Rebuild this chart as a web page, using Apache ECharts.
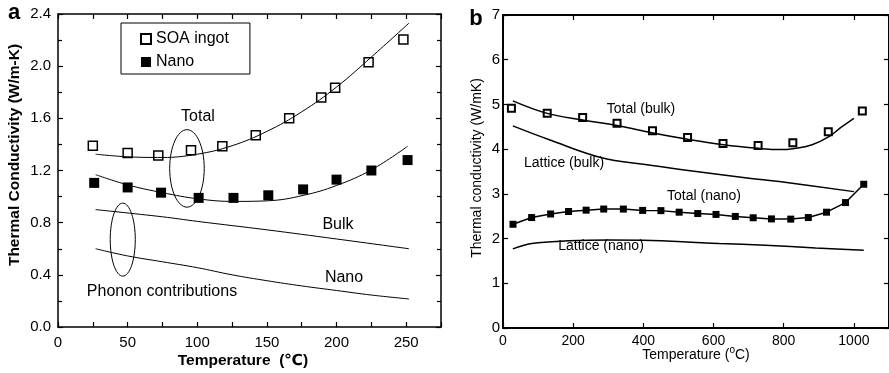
<!DOCTYPE html>
<html>
<head>
<meta charset="utf-8">
<script src="https://cdn.jsdelivr.net/npm/echarts@6/dist/echarts.min.js"></script>
<style>
  html, body { margin: 0; background: #fff; }
  #chart { width: 889px; height: 373px; }
</style>
</head>
<body>
<div id="chart"></div>
<script>
// ---- panel a: thermal conductivity vs temperature (0-275 C)
const soaT = [25, 50, 72, 95.5, 118, 142, 166, 189, 199, 223, 248]
const soaK = [1.39, 1.335, 1.315, 1.355, 1.385, 1.47, 1.6, 1.76, 1.835, 2.03, 2.205]
const nanoT = [26, 50, 74, 101, 126, 151, 176, 200, 225, 251]
const nanoK = [1.105, 1.07, 1.03, 0.99, 0.99, 1.01, 1.055, 1.13, 1.2, 1.28]
const soaFitT = [27, 50, 75, 100, 125, 150, 175, 200, 225, 252]
const soaFitK = [1.325, 1.305, 1.3, 1.325, 1.39, 1.5, 1.65, 1.84, 2.07, 2.33]
const nanoFitT = [27, 50, 75, 101, 126, 151, 176, 200, 225, 251]
const nanoFitK = [1.168, 1.09, 1.03, 0.982, 0.963, 0.968, 1.009, 1.085, 1.205, 1.385]
const bulkPhT = [27, 75, 100, 150, 200, 252]
const bulkPhK = [0.9, 0.845, 0.81, 0.745, 0.675, 0.6]
const nanoPhT = [27, 50, 75, 100, 125, 150, 175, 200, 225, 252]
const nanoPhK = [0.6, 0.545, 0.5, 0.455, 0.4, 0.355, 0.315, 0.28, 0.245, 0.215]
// ellipses: [centre T, centre k, radius T, radius k]
const ellipsesA = [[92.6, 1.216, 12.4, 0.297], [46.5, 0.67, 9.0, 0.28]]
const xTicksA = [0, 25, 50, 75, 100, 125, 150, 175, 200, 225, 250, 275]
const xLabelsA = [0, 50, 100, 150, 200, 250]

// ---- panel b: 0-1100 C
const bulkT = [24, 126, 227, 325, 426, 526, 627, 727, 826, 927, 1024]
const bulkK = [4.915, 4.8, 4.705, 4.58, 4.41, 4.26, 4.125, 4.08, 4.145, 4.39, 4.855]
const bulkFitT = [28, 126, 227, 325, 427, 526, 628, 727, 790, 826, 881, 929, 962, 1000]
const bulkFitK = [5.08, 4.8, 4.65, 4.53, 4.36, 4.22, 4.1, 4.02, 3.99, 4.01, 4.1, 4.28, 4.48, 4.69]
const latBulkT = [28, 132, 284, 400, 511, 701, 787, 1000]
const latBulkK = [4.52, 4.21, 3.8, 3.66, 3.54, 3.35, 3.275, 3.05]
const nanoTotT = [28.5, 81.6, 135.6, 186.8, 237, 287, 343, 398, 450, 502, 555, 607, 662, 713, 765, 820, 870, 922, 976, 1028]
const nanoTotK = [2.32, 2.47, 2.55, 2.605, 2.635, 2.66, 2.66, 2.63, 2.625, 2.59, 2.56, 2.54, 2.495, 2.465, 2.44, 2.435, 2.47, 2.59, 2.805, 3.215]
const latNanoT = [28, 82, 187, 300, 398, 512, 616, 748, 891, 1028]
const latNanoK = [1.77, 1.89, 1.95, 1.97, 1.96, 1.93, 1.89, 1.85, 1.79, 1.74]

const FONT = '"Liberation Sans", Arial, "DejaVu Sans", sans-serif'
const zip = (xs, ys) => xs.map((x, i) => [x, ys[i]])

const chart = echarts.init(document.getElementById('chart'))

function boxAxis(extra) {
  return Object.assign({
    type: 'value',
    axisLine: { show: true, onZero: false, lineStyle: { color: '#000', width: 1.5 } },
    axisTick: { show: true, inside: true, length: 5, lineStyle: { color: '#000', width: 1.2 } },
    axisLabel: { color: '#000', fontFamily: FONT },
    splitLine: { show: false },
  }, extra)
}

function curve(name, xs, ys, x, y, width, smooth) {
  return {
    name, type: 'line', xAxisIndex: x, yAxisIndex: y,
    data: zip(xs, ys), smooth: smooth, symbol: 'none', silent: true,
    lineStyle: { color: '#000', width },
  }
}

function label(text, x, y, size, extra) {
  return {
    type: 'text', x, y, silent: true,
    style: Object.assign({
      text, fill: '#000', fontSize: size, fontFamily: FONT,
      align: 'center', verticalAlign: 'middle',
    }, extra),
  }
}

const option = {
  animation: false,
  grid: [
    { left: 58, top: 14, width: 383, height: 313 },
    { left: 503, top: 15, width: 387, height: 313 },
  ],
  xAxis: [
    boxAxis({ gridIndex: 0, min: 0, max: 275, position: 'bottom',
      axisTick: { inside: true, length: 5, customValues: xTicksA, lineStyle: { color: '#000', width: 1.2 } },
      axisLabel: { color: '#000', fontFamily: FONT, fontSize: 15, margin: 8, customValues: xLabelsA } }),
    boxAxis({ gridIndex: 0, min: 0, max: 275, position: 'top',
      axisTick: { inside: true, length: 5, customValues: xTicksA, lineStyle: { color: '#000', width: 1.2 } },
      axisLabel: { show: false } }),
    boxAxis({ gridIndex: 1, min: 0, max: 1100, interval: 200, position: 'bottom',
      axisLine: { show: true, onZero: false, lineStyle: { color: '#000', width: 2 } },
      axisLabel: { color: '#000', fontFamily: FONT, fontSize: 14, margin: 6, showMaxLabel: false,
        formatter: v => String(v) } }),
    boxAxis({ gridIndex: 1, min: 0, max: 1100, interval: 200, position: 'top',
      axisLine: { show: true, onZero: false, lineStyle: { color: '#000', width: 2 } },
      axisLabel: { show: false } }),
  ],
  yAxis: [
    boxAxis({ gridIndex: 0, min: 0, max: 2.4, interval: 0.4, position: 'left',
      minorTick: { show: true, splitNumber: 2, length: 4, lineStyle: { color: '#000', width: 1.2 } },
      axisLabel: { color: '#000', fontFamily: FONT, fontSize: 15, margin: 7, formatter: v => v.toFixed(1) } }),
    boxAxis({ gridIndex: 0, min: 0, max: 2.4, interval: 0.4, position: 'right',
      minorTick: { show: true, splitNumber: 2, length: 4, lineStyle: { color: '#000', width: 1.2 } },
      axisLabel: { show: false } }),
    boxAxis({ gridIndex: 1, min: 0, max: 7, interval: 1, position: 'left',
      axisLine: { show: true, onZero: false, lineStyle: { color: '#000', width: 2 } },
      axisLabel: { color: '#000', fontFamily: FONT, fontSize: 15, margin: 3 } }),
    boxAxis({ gridIndex: 1, min: 0, max: 7, interval: 1, position: 'right',
      axisLine: { show: true, onZero: false, lineStyle: { color: '#000', width: 2 } },
      axisLabel: { show: false } }),
  ],
  legend: {
    data: ['SOA ingot', 'Nano'],
    orient: 'vertical',
    left: 121, top: 23,
    padding: [8, 21, 4, 19],
    itemGap: 7,
    itemWidth: 10, itemHeight: 10,
    borderColor: '#000', borderWidth: 1,
    selectedMode: false,
    textStyle: { color: '#000', fontSize: 16, fontFamily: FONT, lineHeight: 16 },
  },
  series: [
    curve('soaFit', soaFitT, soaFitK, 0, 0, 1, 0.4),
    curve('nanoFit', nanoFitT, nanoFitK, 0, 0, 1, 0.4),
    curve('bulkPh', bulkPhT, bulkPhK, 0, 0, 1, 0.4),
    curve('nanoPh', nanoPhT, nanoPhK, 0, 0, 1, 0.4),
    {
      name: 'SOA ingot', type: 'scatter', xAxisIndex: 0, yAxisIndex: 0,
      data: zip(soaT, soaK), symbol: 'rect', symbolSize: 9,
      itemStyle: { color: '#fff', borderColor: '#000', borderWidth: 1.5, opacity: 1 },
    },
    {
      name: 'Nano', type: 'scatter', xAxisIndex: 0, yAxisIndex: 0,
      data: zip(nanoT, nanoK), symbol: 'rect', symbolSize: 10,
      itemStyle: { color: '#000', opacity: 1 },
    },
    {
      name: 'ellipses', type: 'custom', xAxisIndex: 0, yAxisIndex: 0,
      data: ellipsesA, silent: true,
      renderItem: (params, api) => {
        const c = api.coord([api.value(0), api.value(1)])
        const s = api.size([api.value(2), api.value(3)])
        return {
          type: 'ellipse',
          shape: { cx: c[0], cy: c[1], rx: s[0], ry: s[1] },
          style: { fill: 'none', stroke: '#000', lineWidth: 1 },
        }
      },
    },
    // panel b
    curve('bulkFit', bulkFitT, bulkFitK, 2, 2, 1.5, 0.4),
    curve('latBulk', latBulkT, latBulkK, 2, 2, 1.5, 0.4),
    curve('latNano', latNanoT, latNanoK, 2, 2, 1.5, 0.4),
    {
      name: 'Total bulk', type: 'scatter', xAxisIndex: 2, yAxisIndex: 2,
      data: zip(bulkT, bulkK), symbol: 'rect', symbolSize: 7,
      itemStyle: { color: '#fff', borderColor: '#000', borderWidth: 2, opacity: 1 },
    },
    {
      name: 'Total nano', type: 'line', xAxisIndex: 2, yAxisIndex: 2,
      data: zip(nanoTotT, nanoTotK), symbol: 'rect', symbolSize: 7, showSymbol: true,
      lineStyle: { color: '#000', width: 1.5 },
      itemStyle: { color: '#000' },
    },
  ],
  graphic: [
    label('a', 14, 12.5, 22, { fontWeight: 'bold' }),
    label('b', 476, 19, 22, { fontWeight: 'bold' }),
    label('Thermal Conductivity (W/m-K)', 15, 155, 15.5, { fontWeight: 'bold' }),
    label('Temperature  (\u2103)', 243, 361, 15.5, { fontWeight: 'bold' }),
    label('Total', 198, 117, 16),
    label('Bulk', 338, 225, 16),
    label('Nano', 344, 277.5, 16),
    label('Phonon contributions', 162, 291.5, 16),
    label('Thermal conductivity (W/mK)', 477, 168, 14),
    label('Total (bulk)', 641, 109, 14),
    label('Lattice (bulk)', 564, 163, 14),
    label('Total (nano)', 704, 196, 14),
    label('Lattice (nano)', 601, 246.5, 14),
    label('Temperature ({sup|o}C)', 696, 355, 14, {
      rich: { sup: { fontSize: 10, fontFamily: FONT, fill: '#000', padding: [0, 0, 10, 0] } },
    }),
  ],
}

// rotate the two y-axis titles
option.graphic[2].rotation = Math.PI / 2
option.graphic[8].rotation = Math.PI / 2

chart.setOption(option)
</script>
</body>
</html>
